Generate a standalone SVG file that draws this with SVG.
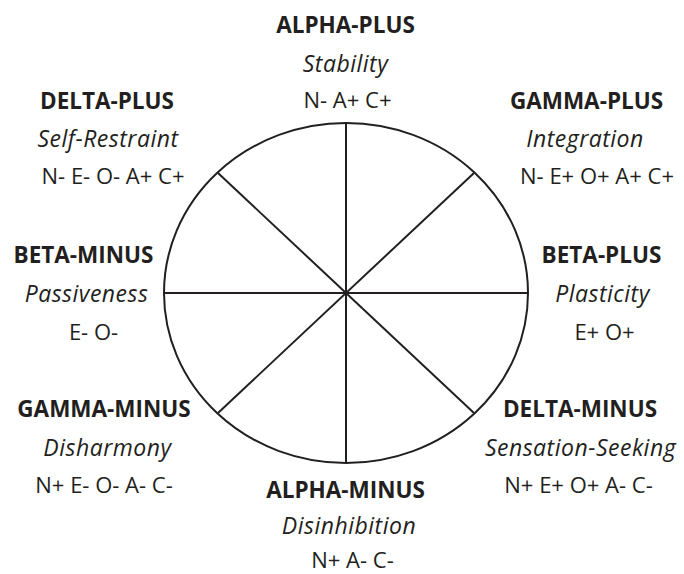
<svg xmlns="http://www.w3.org/2000/svg" width="684" height="574" viewBox="0 0 684 574">
<style>
text{font-family:"Open Sans","DejaVu Sans",sans-serif;fill:#231f20;text-anchor:middle}
.h{font-weight:bold;font-size:22.5px}
.s{font-style:italic;font-size:23px;letter-spacing:0.5px}
.t{font-size:22px}
.ln{stroke:#231f20;stroke-width:2;fill:none}
</style>
<rect width="684" height="574" fill="#fff"/>
<g id="wheel">
<ellipse class="ln" cx="346" cy="293" rx="182" ry="170"/>
</g>
<g id="connectors">
<line class="ln" x1="346" y1="123" x2="346" y2="463"/>
<line class="ln" x1="164" y1="293" x2="528" y2="293"/>
<line class="ln" x1="218" y1="173" x2="474" y2="413"/>
<line class="ln" x1="474" y1="173" x2="218" y2="413"/>
</g>
<g id="alpha-plus">
<text class="h" x="345.5" y="33">ALPHA-PLUS</text>
<text class="s" x="345.5" y="72">Stability</text>
<text class="t" x="347.5" y="108">N- A+ C+</text>
</g>
<g id="delta-plus">
<text class="h" x="107" y="109">DELTA-PLUS</text>
<text class="s" x="108" y="147">Self-Restraint</text>
<text class="t" x="113" y="184">N- E- O- A+ C+</text>
</g>
<g id="gamma-plus">
<text class="h" x="586.5" y="109">GAMMA-PLUS</text>
<text class="s" x="585" y="147">Integration</text>
<text class="t" x="597" y="184">N- E+ O+ A+ C+</text>
</g>
<g id="beta-minus">
<text class="h" x="83.5" y="263">BETA-MINUS</text>
<text class="s" x="86.5" y="302">Passiveness</text>
<text class="t" x="93.5" y="340">E- O-</text>
</g>
<g id="beta-plus">
<text class="h" x="601.5" y="263">BETA-PLUS</text>
<text class="s" x="602.5" y="302">Plasticity</text>
<text class="t" x="604.5" y="340">E+ O+</text>
</g>
<g id="gamma-minus">
<text class="h" x="104" y="417">GAMMA-MINUS</text>
<text class="s" x="107.5" y="456">Disharmony</text>
<text class="t" x="104" y="493">N+ E- O- A- C-</text>
</g>
<g id="delta-minus">
<text class="h" x="580" y="417">DELTA-MINUS</text>
<text class="s" x="580.5" y="456">Sensation-Seeking</text>
<text class="t" x="578.5" y="493">N+ E+ O+ A- C-</text>
</g>
<g id="alpha-minus">
<text class="h" x="345.5" y="498">ALPHA-MINUS</text>
<text class="s" x="349" y="534">Disinhibition</text>
<text class="t" x="352.5" y="568">N+ A- C-</text>
</g>
</svg>
